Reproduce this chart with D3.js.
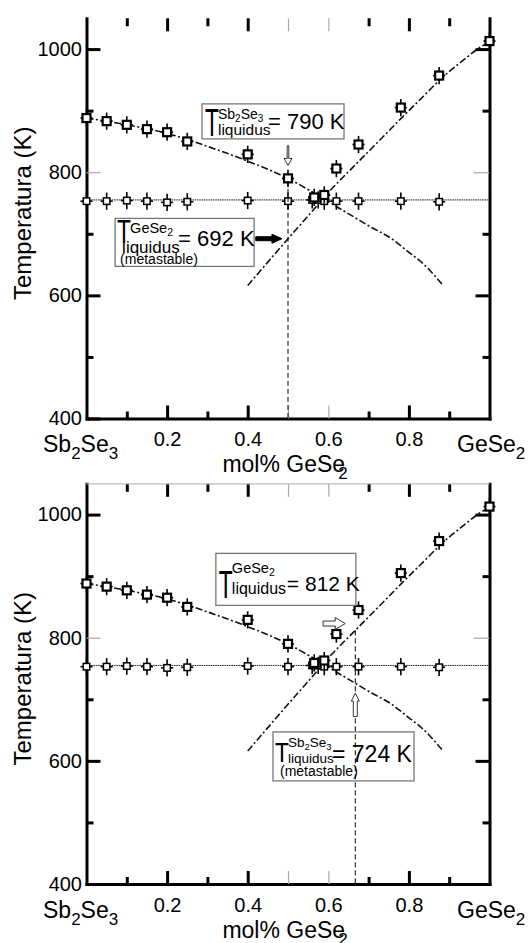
<!DOCTYPE html>
<html>
<head>
<meta charset="utf-8">
<script src="https://cdn.jsdelivr.net/npm/d3@7"></script>
<style>
  body { margin: 0; background: #fff; }
  svg { display: block; }
  text { font-family: "Liberation Sans", Arial, Helvetica, sans-serif; fill: #000; }
</style>
</head>
<body>
<svg id="chart" width="531" height="943"></svg>
<script>
// ---- Measured liquidus temperatures (K) vs. mole fraction GeSe2 ----
const liquidusX = [0.0, 0.05, 0.10, 0.15, 0.20, 0.25, 0.40, 0.50, 0.565, 0.59, 0.62, 0.675, 0.78, 0.875, 1.0];
const liquidusT = [888, 883, 877, 870, 865, 850, 829, 790, 759, 763, 806, 845, 905, 957, 1013];

// ---- Measured eutectic (solidus) temperatures (K) ----
const solidusX = [0.0, 0.05, 0.10, 0.15, 0.20, 0.25, 0.40, 0.50, 0.56, 0.575, 0.59, 0.62, 0.675, 0.78, 0.875];
const solidusT = [753, 753, 754, 753, 751, 752, 754, 753, 755, 755, 753, 753, 753, 753, 752];

// ---- Liquidus branches (model curves) ----
const sbBranchX = [0.0, 0.10, 0.20, 0.30, 0.40, 0.50, 0.60, 0.667, 0.70, 0.757, 0.80, 0.836, 0.885];
const sbBranchT = [888, 877, 863, 842, 818, 790, 752, 726, 713, 692, 670, 651, 616];
const geBranchX = [0.40, 0.45, 0.50, 0.55, 0.60, 0.667, 0.72, 0.78, 0.84, 0.88, 0.935, 0.97, 1.0];
const geBranchT = [616, 654, 692, 729, 767, 812, 847, 887, 926, 952, 982, 1000, 1012];

// eutectic isotherm and error bar half-widths
const eutecticT = 755;
const errT = 14;
const errX = 0.015;

// ---- Axis ticks ----
const tempMajor = [400, 600, 800, 1000];
const tempMinor = [500, 700, 900];
const tempGray = [800];
const fracMajor = [0.2, 0.4, 0.6, 0.8];
const fracMinor = [0.1, 0.3, 0.5, 0.7, 0.9];
const fracGray = [0.5, 0.6];

const svg = d3.select("#chart");
const X0 = 86.5, X1 = 489.5, PLOT_H = 400.2;
const panelTops = [18.3, 483.8];
const x = d3.scaleLinear().domain([0, 1]).range([X0, X1]);
const FONT = '"Liberation Sans", Arial, Helvetica, sans-serif';

// rich text made of tspans: parts = [{t, size, dy}]
function rich(g, px, py, parts, extra) {
  const t = g.append("text").attr("x", px).attr("y", py);
  parts.forEach(p => {
    const s = t.append("tspan").text(p.t).attr("font-size", p.size);
    if (p.dy) s.attr("dy", p.dy);
    if (p.dx) s.attr("dx", p.dx);
  });
  if (extra) extra(t);
  return t;
}

// tall condensed "T" used in the annotation boxes
function bigT(g, px, py, sy) {
  g.append("text")
    .attr("transform", `translate(${px},${py}) scale(0.95,${sy})`)
    .attr("font-size", 24)
    .text("T");
}

function hollowArrow(g, x0, y0, x1, y1, shaft, head, headLen, fill) {
  const ang = Math.atan2(y1 - y0, x1 - x0);
  const len = Math.hypot(x1 - x0, y1 - y0);
  const pts = [
    [0, -shaft], [len - headLen, -shaft], [len - headLen, -head], [len, 0],
    [len - headLen, head], [len - headLen, shaft], [0, shaft]
  ];
  g.append("path")
    .attr("transform", `translate(${x0},${y0}) rotate(${ang * 180 / Math.PI})`)
    .attr("d", d3.line()(pts) + "Z")
    .attr("fill", fill)
    .attr("stroke", fill === "#000" ? "#000" : "#333")
    .attr("stroke-width", 1);
}

function styleAxis(sel) {
  sel.attr("font-family", FONT).attr("font-size", 20);
  sel.selectAll(".tick text").attr("fill", "#000");
}

function drawPanel(top, annotate) {
  const y = d3.scaleLinear().domain([400, 1050]).range([top + PLOT_H, top]);
  const g = svg.append("g");

  // ---- curves ----
  const line = d3.line().x(d => x(d[0])).y(d => y(d[1])).curve(d3.curveMonotoneX);
  const curveStyle = s => s.attr("fill", "none").attr("stroke", "#111")
    .attr("stroke-width", 1.6).attr("stroke-dasharray", "7,2.5,2,2.5");
  g.append("path").datum(sbBranchX.map((v, i) => [v, sbBranchT[i]])).attr("d", line).call(curveStyle);
  g.append("path").datum(geBranchX.map((v, i) => [v, geBranchT[i]])).attr("d", line).call(curveStyle);

  // eutectic isotherm
  g.append("line")
    .attr("x1", x(0)).attr("x2", x(1)).attr("y1", y(eutecticT)).attr("y2", y(eutecticT))
    .attr("stroke", "#222").attr("stroke-width", 1).attr("stroke-dasharray", "1.6,0.7");

  // ---- axes ----
  const left = g.append("g").attr("transform", `translate(${X0},0)`)
    .call(d3.axisLeft(y).tickValues(tempMajor).tickSizeInner(-14).tickSizeOuter(0)
      .tickPadding(4.5).tickFormat(d3.format("d")));
  styleAxis(left);
  left.select(".domain").attr("stroke-width", 3).attr("stroke-linecap", "square");
  left.selectAll(".tick line").attr("stroke-width", d => tempGray.includes(d) ? 1.2 : 3)
    .attr("stroke", d => tempGray.includes(d) ? "#aaa" : "#000");

  const leftMinor = g.append("g").attr("transform", `translate(${X0},0)`)
    .call(d3.axisLeft(y).tickValues(tempMinor).tickSizeInner(-7).tickSizeOuter(0).tickFormat(""));
  leftMinor.select(".domain").remove();
  leftMinor.selectAll(".tick line").attr("stroke-width", 3);

  const right = g.append("g").attr("transform", `translate(${X1},0)`)
    .call(d3.axisRight(y).tickValues(tempMajor.slice(1)).tickSizeInner(-14).tickSizeOuter(0).tickFormat(""));
  right.select(".domain").attr("stroke-width", 3).attr("stroke-linecap", "square");
  right.selectAll(".tick line").attr("stroke-width", d => tempGray.includes(d) ? 1.2 : 3)
    .attr("stroke", d => tempGray.includes(d) ? "#aaa" : "#000")
    .attr("x2", d => tempGray.includes(d) ? -16 : -14);
  const rightMinor = g.append("g").attr("transform", `translate(${X1},0)`)
    .call(d3.axisRight(y).tickValues(tempMinor).tickSizeInner(-7).tickSizeOuter(0).tickFormat(""));
  rightMinor.select(".domain").remove();
  rightMinor.selectAll(".tick line").attr("stroke-width", 3);

  const yb = top + PLOT_H;
  const bottom = g.append("g").attr("transform", `translate(0,${yb})`)
    .call(d3.axisBottom(x).tickValues(fracMajor).tickSizeInner(-13).tickSizeOuter(0)
      .tickPadding(13.5).tickFormat(d3.format(".1f")));
  styleAxis(bottom);
  bottom.select(".domain").attr("stroke-width", 3).attr("stroke-linecap", "square");
  bottom.selectAll(".tick line").attr("stroke-width", d => fracGray.includes(d) ? 1.2 : 3)
    .attr("stroke", d => fracGray.includes(d) ? "#aaa" : "#000");
  const bottomMinor = g.append("g").attr("transform", `translate(0,${yb})`)
    .call(d3.axisBottom(x).tickValues(fracMinor).tickSizeInner(-7).tickSizeOuter(0).tickFormat(""));
  bottomMinor.select(".domain").remove();
  bottomMinor.selectAll(".tick line").attr("stroke-width", d => fracGray.includes(d) ? 1.2 : 3)
    .attr("stroke", d => fracGray.includes(d) ? "#aaa" : "#000")
    .attr("y2", d => fracGray.includes(d) ? -13 : -7);

  const topAx = g.append("g").attr("transform", `translate(0,${top})`)
    .call(d3.axisTop(x).tickValues(fracMajor).tickSizeInner(-13).tickSizeOuter(0).tickFormat(""));
  topAx.select(".domain").remove();
  topAx.selectAll(".tick line").attr("stroke-width", d => fracGray.includes(d) ? 1.2 : 3)
    .attr("stroke", d => fracGray.includes(d) ? "#aaa" : "#000");
  const topMinor = g.append("g").attr("transform", `translate(0,${top})`)
    .call(d3.axisTop(x).tickValues(fracMinor).tickSizeInner(-8).tickSizeOuter(0).tickFormat(""));
  topMinor.select(".domain").remove();
  topMinor.selectAll(".tick line").attr("stroke-width", d => fracGray.includes(d) ? 1.2 : 3)
    .attr("stroke", d => fracGray.includes(d) ? "#aaa" : "#000")
    .attr("y2", d => fracGray.includes(d) ? 13 : 8);

  // end-member labels
  rich(g, x(0) - 43.5, yb + 33.5, [
    { t: "Sb", size: 23 }, { t: "2", size: 17, dy: 7 }, { t: "Se", size: 23, dy: -7 }, { t: "3", size: 17, dy: 7 }
  ]);
  rich(g, x(1) - 32.5, yb + 33.5, [
    { t: "GeSe", size: 23 }, { t: "2", size: 17, dy: 7 }
  ]);
  // axis titles
  rich(g, x(0.5) - 3, yb + 53.5, [
    { t: "mol% GeSe", size: 23 }, { t: "2", size: 17, dy: 7, dx: -7 }
  ], t => t.attr("text-anchor", "middle"));
  g.append("text")
    .attr("transform", `translate(31,${top + 195}) rotate(-90)`)
    .attr("text-anchor", "middle").attr("font-size", 24)
    .text("Temperatura (K)");

  // ---- data markers ----
  const markers = (xs, ts, size, sw) => {
    xs.forEach((v, i) => {
      const cx = x(v), cy = y(ts[i]);
      const m = g.append("g");
      m.append("line").attr("x1", cx).attr("x2", cx).attr("y1", y(ts[i] - errT)).attr("y2", y(ts[i] + errT))
        .attr("stroke", "#000").attr("stroke-width", 1.6);
      m.append("line").attr("x1", x(v - errX)).attr("x2", x(v + errX)).attr("y1", cy).attr("y2", cy)
        .attr("stroke", "#000").attr("stroke-width", 1.6);
      m.append("rect").attr("x", cx - size / 2).attr("y", cy - size / 2).attr("width", size).attr("height", size)
        .attr("fill", "#fff").attr("stroke", "#000").attr("stroke-width", sw);
    });
  };
  markers(solidusX, solidusT, 6.5, 1.5);
  markers(liquidusX, liquidusT, 8, 2.2);

  annotate(g, y);
  return g;
}

function box(g, bx, by, w, h) {
  g.append("rect").attr("x", bx).attr("y", by).attr("width", w).attr("height", h)
    .attr("fill", "none").attr("stroke", "#777").attr("stroke-width", 1.3);
}

// ---- upper panel ----
drawPanel(panelTops[0], (g, y) => {
  // eutectic-composition guide at x = 0.5
  g.append("line").attr("x1", x(0.5)).attr("x2", x(0.5)).attr("y1", y(786)).attr("y2", y(400))
    .attr("stroke", "#000").attr("stroke-width", 1).attr("stroke-dasharray", "5,3");
  hollowArrow(g, x(0.5), y(843), x(0.5), y(811), 0.8, 4, 7, "#fff");
  hollowArrow(g, x(0.42), y(692), x(0.485), y(692), 2, 4.5, 10, "#000");

  const b1x = x(0.2866), b1y = y(911);
  box(g, b1x, b1y, 142, 35);
  bigT(g, b1x + 3, b1y + 32, 1.6);
  rich(g, b1x + 16, b1y + 15, [
    { t: "Sb", size: 14 }, { t: "2", size: 10, dy: 3 }, { t: "Se", size: 14, dy: -3 }, { t: "3", size: 10, dy: 3 }
  ]);
  rich(g, b1x + 16, b1y + 31, [{ t: "liquidus", size: 15.5 }]);
  rich(g, b1x + 66, b1y + 25, [{ t: "= 790 K", size: 22 }]);

  const b2x = x(0.071), b2y = y(725);
  box(g, b2x, b2y, 139, 48);
  bigT(g, b2x + 2, b2y + 25, 1.35);
  rich(g, b2x + 15, b2y + 15, [{ t: "GeSe", size: 14.5 }, { t: "2", size: 10.5, dy: 3 }]);
  rich(g, b2x + 7, b2y + 35, [{ t: "liquidus", size: 17 }]);
  rich(g, b2x + 5, b2y + 46, [{ t: "(metastable)", size: 14 }]);
  rich(g, b2x + 63, b2y + 28, [{ t: "= 692 K", size: 22 }]);
});

// ---- lower panel ----
drawPanel(panelTops[1], (g, y) => {
  g.append("line").attr("x1", x(0.667)).attr("x2", x(0.667)).attr("y1", y(812)).attr("y2", y(400))
    .attr("stroke", "#000").attr("stroke-width", 1).attr("stroke-dasharray", "5,3");
  // thin frame along the top edge
  g.append("line").attr("x1", x(0)).attr("x2", x(1)).attr("y1", y(1050)).attr("y2", y(1050))
    .attr("stroke", "#bbb").attr("stroke-width", 1.3);
  hollowArrow(g, x(0.587), y(823), x(0.642), y(823), 2.5, 6, 10, "#fff");
  hollowArrow(g, x(0.667), y(672), x(0.667), y(710), 2, 4, 8, "#fff");

  const b3x = x(0.321), b3y = y(937);
  box(g, b3x, b3y, 140, 52);
  bigT(g, b3x + 3, b3y + 45, 1.63);
  rich(g, b3x + 16, b3y + 20, [{ t: "GeSe", size: 14.5 }, { t: "2", size: 10.5, dy: 3 }]);
  rich(g, b3x + 16, b3y + 41, [{ t: "liquidus", size: 16 }]);
  rich(g, b3x + 71, b3y + 38, [{ t: "= 812 K", size: 21 }]);

  const b4x = x(0.4628), b4y = y(647);
  box(g, b4x, b4y, 141, 49);
  bigT(g, b4x + 2, b4y + 30, 1.18);
  rich(g, b4x + 15, b4y + 15, [
    { t: "Sb", size: 13.5 }, { t: "2", size: 9.5, dy: 3 }, { t: "Se", size: 13.5, dy: -3 }, { t: "3", size: 9.5, dy: 3 }
  ]);
  rich(g, b4x + 15, b4y + 31, [{ t: "liquidus", size: 13.5 }]);
  rich(g, b4x + 7, b4y + 44, [{ t: "(metastable)", size: 14 }]);
  rich(g, b4x + 59, b4y + 30, [{ t: "= 724 K", size: 23 }]);
});
</script>
</body>
</html>
